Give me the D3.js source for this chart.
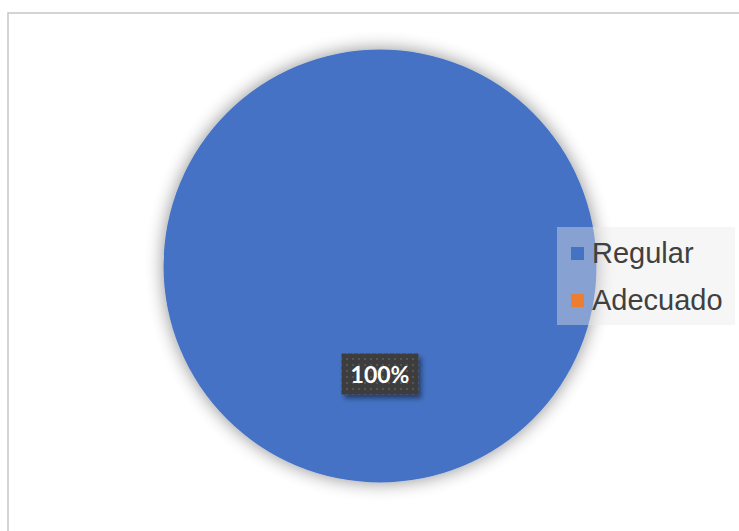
<!DOCTYPE html>
<html>
<head>
<meta charset="utf-8">
<script src="https://cdn.jsdelivr.net/npm/d3@7"></script>
<style>
html,body{margin:0;padding:0;background:#fff;}
svg{display:block;}
</style>
</head>
<body>
<svg id="chart" width="739" height="531"></svg>
<script>
const categories = ["Regular", "Adecuado"];
const values = [100, 0];
const colors = ["#4472C4", "#ED7D31"];
const labelTexts = ["100%", ""];

const W = 739, H = 531;
const svg = d3.select("#chart");
const defs = svg.append("defs");

// shadow for pie
const f1 = defs.append("filter").attr("id","pieShadow").attr("x","-30%").attr("y","-30%").attr("width","160%").attr("height","160%");
f1.append("feGaussianBlur").attr("in","SourceAlpha").attr("stdDeviation",9).attr("result","b");
f1.append("feOffset").attr("in","b").attr("dx",0).attr("dy",0).attr("result","o");
f1.append("feComponentTransfer").attr("in","o").attr("result","s")
  .append("feFuncA").attr("type","linear").attr("slope",0.45);
const m1 = f1.append("feMerge");
m1.append("feMergeNode").attr("in","s");
m1.append("feMergeNode").attr("in","SourceGraphic");

// shadow for label
const f2 = defs.append("filter").attr("id","lblShadow").attr("x","-30%").attr("y","-30%").attr("width","160%").attr("height","180%");
f2.append("feGaussianBlur").attr("in","SourceAlpha").attr("stdDeviation",2.5).attr("result","b");
f2.append("feOffset").attr("in","b").attr("dx",3).attr("dy",4).attr("result","o");
f2.append("feComponentTransfer").attr("in","o").attr("result","s")
  .append("feFuncA").attr("type","linear").attr("slope",0.45);
const m2 = f2.append("feMerge");
m2.append("feMergeNode").attr("in","s");
m2.append("feMergeNode").attr("in","SourceGraphic");

// dotted pattern for label box
const pat = defs.append("pattern").attr("id","dots").attr("patternUnits","userSpaceOnUse")
  .attr("width",6).attr("height",6).attr("x",342).attr("y",354);
pat.append("rect").attr("width",6).attr("height",6).attr("fill","#3e3e3e");
pat.append("rect").attr("x",2).attr("y",2).attr("width",2).attr("height",2).attr("fill","#555555");

// chart border
svg.append("rect").attr("x",8).attr("y",13).attr("width",W+20).attr("height",H+20)
  .attr("fill","#fff").attr("stroke","#c6c6c6").attr("stroke-width",1.5);

const cx = 380, cy = 266, r = 216.5;
const pie = d3.pie().sort(null).value(d => d.v);
const arcs = pie(categories.map((c,i)=>({c, v: values[i], col: colors[i], lab: labelTexts[i]})));
const arc = d3.arc().innerRadius(0).outerRadius(r);

const g = svg.append("g").attr("transform",`translate(${cx},${cy})`);
g.append("g").attr("filter","url(#pieShadow)")
  .selectAll("path").data(arcs.filter(d=>d.data.v>0)).join("path")
  .attr("d", arc).attr("fill", d=>d.data.col);

// data label
const labelArc = d3.arc().innerRadius(r*0.5).outerRadius(r*0.5);
arcs.filter(d=>d.data.v>0).forEach(d=>{
  let [lx, ly] = labelArc.centroid(d);
  if (d.endAngle - d.startAngle >= 2*Math.PI - 1e-6) { lx = 0; ly = 108; }
  const lg = g.append("g").attr("transform",`translate(${lx},${ly})`);
  const bw = 77, bh = 41;
  lg.append("rect").attr("x",-bw/2).attr("y",-bh/2).attr("width",bw).attr("height",bh)
    .attr("fill","url(#dots)").attr("filter","url(#lblShadow)");
  lg.append("text").attr("x",0).attr("y",8.5).attr("text-anchor","middle")
    .attr("font-family","Lato, 'Open Sans', sans-serif").attr("font-weight","bold")
    .attr("font-size",23).attr("fill","#ffffff").text(d.data.lab);
});

// legend
const leg = svg.append("g");
leg.append("rect").attr("x",557).attr("y",227).attr("width",178).attr("height",98)
  .attr("fill","#e8e8e8").attr("fill-opacity",0.4);
const legY = d3.scalePoint().domain(categories).range([263,310]);
categories.forEach((c,i)=>{
  const y = legY(c);
  leg.append("rect").attr("x",571).attr("y",y-16).attr("width",13).attr("height",13).attr("fill",colors[i]);
  leg.append("text").attr("x",592).attr("y",y)
    .attr("font-family","'Liberation Sans', Arial, sans-serif").attr("font-size",29)
    .attr("fill","#404040").text(c);
});
</script>
</body>
</html>
